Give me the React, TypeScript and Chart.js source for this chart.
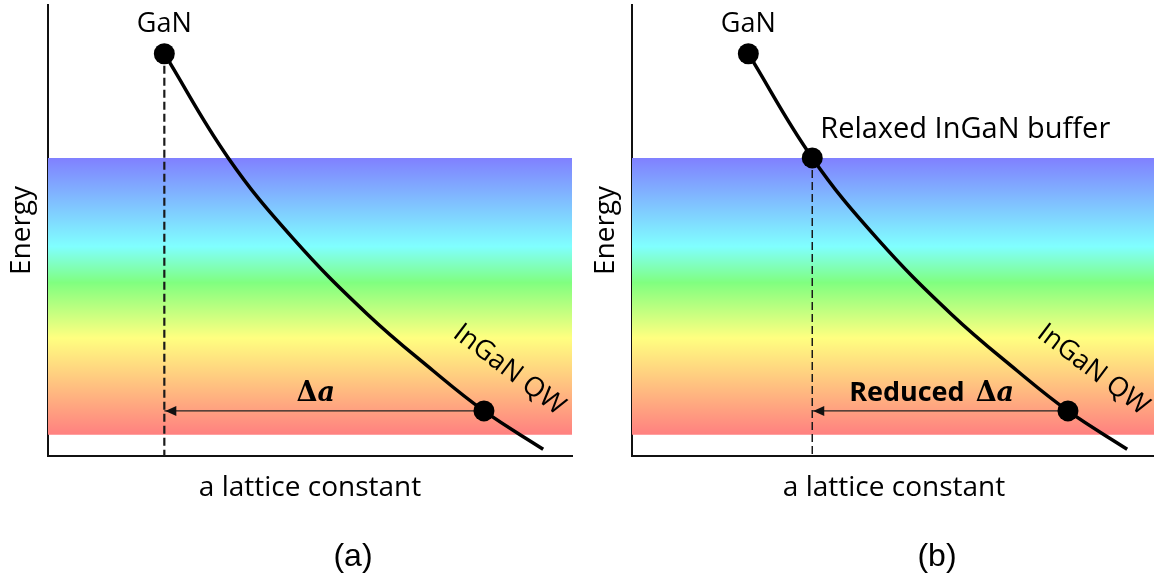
import { useEffect, useRef } from 'react';
import { Chart, registerables } from 'chart.js';

Chart.register(...registerables);

// Axis ranges (arbitrary units for lattice constant and energy)
const latticeRange = [0, 10];
const energyRange = [0, 10];

// Band-gap curve from GaN toward higher indium content
const curveLattice = [2.22, 3.44, 4.68, 6.09, 7.35, 8.32, 9.45];
const curveEnergy = [8.92, 6.61, 4.82, 3.15, 1.89, 1.0, 0.15];

// Layers marked on the curve
const layerNames = ['GaN', 'Relaxed InGaN buffer', 'InGaN QW'];
const layerLattice = [2.22, 3.44, 8.32];
const layerEnergy = [8.92, 6.61, 1.0];

// Visible-light energy window: [bottom, top]
const bandEnergy = [0.47, 6.61];

// Per panel: which layers are shown, which layer the QW is referenced to
const panelLayers = [[0, 2], [0, 1, 2]];
const panelReference = [0, 1];
const panelMismatchPrefix = ['', 'Reduced'];
const panelCaptions = ['(a)', '(b)'];

const QW = 2;
const SANS = '"Open Sans", "Noto Sans", sans-serif';
const CANVAS_W = 584;
const CANVAS_H = 578;

const BAND_GRADIENT: [number, string][] = [
  [0, '#8080ff'],
  [0.32, '#80ffff'],
  [0.45, '#80ff80'],
  [0.65, '#ffff80'],
  [1, '#ff8080'],
];

function annotationPlugin(panel: number) {
  return {
    id: 'panelAnnotations',
    afterDatasetsDraw(chart: any) {
      const { ctx, chartArea, scales } = chart;
      const xs = scales.x;
      const ys = scales.y;
      const ref = panelReference[panel];
      ctx.save();

      // arrow head at the reference lattice constant
      const tipX = xs.getPixelForValue(layerLattice[ref]) + 1;
      const arrowY = ys.getPixelForValue(layerEnergy[QW]);
      ctx.fillStyle = '#111';
      ctx.beginPath();
      ctx.moveTo(tipX, arrowY);
      ctx.lineTo(tipX + 11, arrowY - 5);
      ctx.lineTo(tipX + 11, arrowY + 5);
      ctx.closePath();
      ctx.fill();

      // mismatch label above the arrow
      const qwX = xs.getPixelForValue(layerLattice[QW]);
      const prefix = panelMismatchPrefix[panel];
      const prefixFont = `bold 27px ${SANS}`;
      const deltaFont = 'bold 27px "DejaVu Serif", serif';
      const aFont = 'italic bold 27px "DejaVu Serif", serif';
      ctx.font = prefixFont;
      const wp = prefix ? ctx.measureText(prefix).width + 11 : 0;
      ctx.font = deltaFont;
      const wd = ctx.measureText('Δ').width;
      ctx.font = aFont;
      const wa = ctx.measureText('a').width;
      const cx = (tipX + qwX) / 2 - 9;
      const base = arrowY - 10;
      let sx = cx - (wp + wd + wa) / 2;
      ctx.fillStyle = '#000';
      ctx.textAlign = 'left';
      ctx.textBaseline = 'alphabetic';
      if (prefix) {
        ctx.font = prefixFont;
        ctx.fillText(prefix, sx, base);
        sx += wp;
      }
      ctx.font = deltaFont;
      ctx.fillText('Δ', sx, base);
      ctx.font = aFont;
      ctx.fillText('a', sx + wd, base);

      // layer names
      for (const i of panelLayers[panel]) {
        const px = xs.getPixelForValue(layerLattice[i]);
        const py = ys.getPixelForValue(layerEnergy[i]);
        if (i === 0) {
          ctx.font = `27px ${SANS}`;
          ctx.textAlign = 'center';
          ctx.textBaseline = 'alphabetic';
          ctx.fillText(layerNames[i], px, py - 22);
        } else if (i === 1) {
          ctx.font = `29px ${SANS}`;
          ctx.textAlign = 'left';
          ctx.textBaseline = 'alphabetic';
          ctx.fillText(layerNames[i], px + 8, py - 20);
        } else {
          ctx.save();
          ctx.translate(px + 25, py - 41);
          ctx.rotate((37 * Math.PI) / 180);
          ctx.font = `27px ${SANS}`;
          ctx.textAlign = 'center';
          ctx.textBaseline = 'middle';
          ctx.fillText(layerNames[i], 0, 0);
          ctx.restore();
        }
      }

      // panel caption
      ctx.font = '32px "Liberation Sans", Arial, sans-serif';
      ctx.textAlign = 'center';
      ctx.textBaseline = 'alphabetic';
      ctx.fillText(panelCaptions[panel], chartArea.left + 305, 566);
      ctx.restore();
    },
  };
}

function buildConfig(panel: number): any {
  const ref = panelReference[panel];
  const pts = (xsArr: number[], ysArr: number[]) => xsArr.map((x, i) => ({ x, y: ysArr[i] }));

  return {
    type: 'line',
    data: {
      datasets: [
        {
          label: 'layers',
          data: panelLayers[panel].map((i) => ({ x: layerLattice[i], y: layerEnergy[i] })),
          showLine: false,
          pointRadius: 10.5,
          pointHoverRadius: 10.5,
          pointBackgroundColor: '#000',
          pointBorderWidth: 0,
          order: 0,
        },
        {
          label: 'band gap',
          data: pts(curveLattice, curveEnergy),
          borderColor: '#000',
          borderWidth: 3.5,
          pointRadius: 0,
          tension: 0.4,
          fill: false,
          order: 1,
        },
        {
          label: 'mismatch',
          data: [
            { x: layerLattice[QW], y: layerEnergy[QW] },
            { x: layerLattice[ref], y: layerEnergy[QW] },
          ],
          borderColor: '#222',
          borderWidth: 1.2,
          pointRadius: 0,
          fill: false,
          order: 2,
        },
        {
          label: 'drop',
          data: [
            { x: layerLattice[ref], y: layerEnergy[ref] },
            { x: layerLattice[ref], y: energyRange[0] },
          ],
          borderColor: '#1a1a1a',
          borderWidth: panel === 0 ? 2.2 : 1.5,
          borderDash: [8, 4],
          pointRadius: 0,
          fill: false,
          order: 3,
        },
        {
          label: 'visible',
          data: [
            { x: latticeRange[0], y: bandEnergy[1] },
            { x: latticeRange[1], y: bandEnergy[1] },
          ],
          borderWidth: 0,
          pointRadius: 0,
          fill: { value: bandEnergy[0] },
          backgroundColor: (context: any) => {
            const { chart } = context;
            const { ctx, chartArea, scales } = chart;
            if (!chartArea) return 'transparent';
            const top = scales.y.getPixelForValue(bandEnergy[1]);
            const bottom = scales.y.getPixelForValue(bandEnergy[0]);
            const g = ctx.createLinearGradient(0, top, 0, bottom);
            for (const [stop, color] of BAND_GRADIENT) g.addColorStop(stop, color);
            return g;
          },
          order: 4,
        },
      ],
    },
    options: {
      responsive: false,
      animation: false,
      events: [],
      devicePixelRatio: 1,
      layout: {
        autoPadding: false,
        padding: { top: 5, left: 0, right: 12, bottom: 73.2 },
      },
      plugins: {
        legend: { display: false },
        tooltip: { enabled: false },
        title: { display: false },
      },
      scales: {
        x: {
          type: 'linear',
          min: latticeRange[0],
          max: latticeRange[1],
          grid: { display: false, drawTicks: false },
          ticks: { display: false },
          border: { display: true, color: '#111', width: 2 },
          title: {
            display: true,
            text: 'a lattice constant',
            color: '#000',
            font: { family: SANS, size: 28 },
            padding: { top: 15.2, bottom: 0 },
          },
        },
        y: {
          type: 'linear',
          min: energyRange[0],
          max: energyRange[1],
          grid: { display: false, drawTicks: false },
          ticks: { display: false },
          border: { display: true, color: '#111', width: 2 },
          title: {
            display: true,
            text: 'Energy',
            color: '#000',
            font: { family: SANS, size: 28 },
            padding: { top: 5.2, bottom: 9.2 },
          },
        },
      },
    },
    plugins: [annotationPlugin(panel)],
  };
}

function Panel({ index }: { index: number }) {
  const canvasRef = useRef<HTMLCanvasElement>(null);
  useEffect(() => {
    const chart = new Chart(canvasRef.current as HTMLCanvasElement, buildConfig(index));
    return () => chart.destroy();
  }, [index]);
  return (
    <canvas
      ref={canvasRef}
      width={CANVAS_W}
      height={CANVAS_H}
      style={{ position: 'absolute', left: index * CANVAS_W, top: 0, width: CANVAS_W, height: CANVAS_H }}
    />
  );
}

export default function App() {
  return (
    <div
      style={{
        position: 'fixed',
        left: 0,
        top: 0,
        width: 1154,
        height: 578,
        overflow: 'hidden',
        background: '#fff',
      }}
    >
      <Panel index={0} />
      <Panel index={1} />
    </div>
  );
}
